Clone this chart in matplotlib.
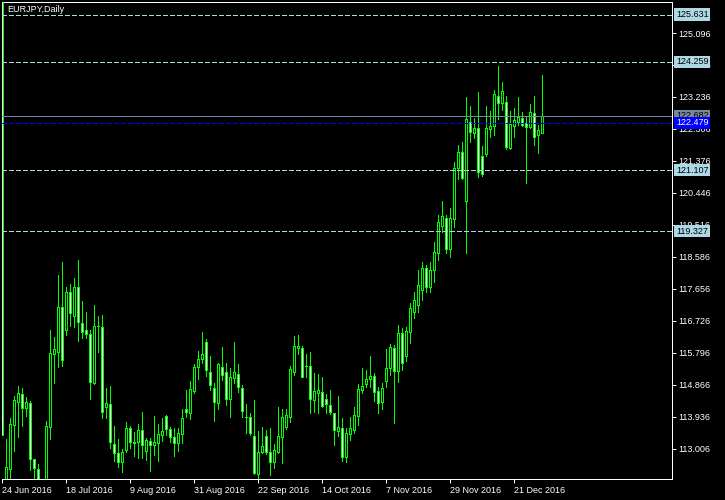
"""EURJPY daily candles, MT4 style dark chart."""
import numpy as np
import pandas as pd
import matplotlib
matplotlib.use("Agg")
import matplotlib.pyplot as plt

plt.rcParams["font.family"] = ["Liberation Sans", "DejaVu Sans"]
plt.rcParams["lines.scale_dashes"] = False

# OHLC per daily bar, first bar is 24 Jun 2016
opens = [126.64, 111.80, 112.41, 113.69, 114.37, 114.59, 114.18, 114.34, 112.70, 112.41,
         111.60, 111.66, 113.65, 115.77, 115.83, 117.14, 116.45, 117.55, 116.87, 117.72,
         116.67, 116.47, 116.33, 114.91, 116.58, 116.54, 114.23, 114.30, 113.15, 112.87,
         112.63, 112.96, 113.60, 113.17, 113.19, 113.55, 112.95, 113.24, 113.11, 113.18,
         113.41, 113.96, 113.57, 113.34, 113.16, 113.42, 114.15, 114.03, 114.69, 115.37,
         115.61, 116.10, 115.23, 114.76, 114.33, 115.39, 115.23, 114.44, 115.05, 115.17,
         114.76, 113.92, 113.92, 113.38, 112.26, 112.92, 113.37, 112.92, 112.63, 112.92,
         113.34, 113.64, 113.94, 115.24, 115.92, 115.92, 115.42, 115.41, 114.42, 114.63,
         114.65, 114.44, 114.27, 114.03, 113.51, 113.60, 112.75, 113.43, 113.55, 113.96,
         114.71, 114.90, 115.02, 115.12, 114.68, 114.35, 114.98, 115.34, 115.92, 115.27,
         116.36, 115.71, 116.41, 116.98, 117.18, 117.62, 118.26, 117.71, 118.20, 118.69,
         119.49, 119.71, 118.81, 119.68, 121.18, 121.63, 120.22, 122.52, 122.18, 122.32,
         121.53, 121.57, 122.31, 122.39, 123.26, 123.07, 123.08, 121.76, 122.40, 122.52,
         122.61, 122.47, 122.35, 122.76, 122.13, 122.20]
highs = [126.80, 113.29, 113.89, 114.53, 114.83, 114.76, 114.52, 114.39, 112.71, 112.56,
         111.95, 113.81, 116.45, 116.26, 118.06, 118.43, 117.70, 117.79, 117.96, 118.49,
         117.30, 116.97, 116.46, 117.18, 116.86, 116.89, 114.76, 114.83, 113.67, 113.29,
         112.99, 113.77, 113.67, 113.50, 113.72, 114.07, 113.32, 113.32, 113.96, 113.72,
         113.91, 113.99, 113.63, 113.60, 113.60, 114.15, 114.71, 114.97, 115.46, 115.84,
         116.39, 116.19, 115.70, 114.92, 115.50, 115.95, 115.49, 115.34, 116.10, 115.46,
         114.85, 114.31, 114.03, 114.42, 113.52, 113.64, 113.55, 113.61, 113.14, 114.21,
         114.16, 114.15, 115.40, 116.28, 116.31, 115.99, 115.76, 115.82, 115.20, 115.18,
         115.08, 114.60, 114.71, 114.05, 114.54, 113.90, 113.60, 113.94, 114.23, 114.89,
         115.36, 115.29, 115.70, 115.20, 114.81, 114.91, 115.90, 116.05, 116.02, 116.60,
         116.51, 116.55, 117.25, 117.56, 118.20, 118.43, 118.35, 118.43, 119.01, 119.80,
         120.21, 119.80, 120.00, 121.34, 121.84, 121.92, 123.23, 122.97, 122.61, 123.38,
         121.81, 122.97, 122.83, 123.44, 124.14, 123.67, 123.26, 122.83, 122.91, 123.23,
         122.80, 122.68, 123.03, 123.26, 122.42, 123.87]
lows = [113.40, 111.51, 111.95, 112.95, 113.35, 113.67, 113.96, 112.38, 111.95, 111.66,
        111.00, 111.51, 113.30, 114.92, 115.39, 115.41, 116.31, 116.58, 116.55, 116.14,
        116.23, 116.23, 114.45, 114.89, 115.83, 113.89, 113.91, 113.02, 112.66, 112.48,
        112.32, 112.92, 113.03, 112.79, 112.73, 112.74, 112.68, 112.36, 112.82, 112.66,
        113.23, 113.40, 113.21, 112.80, 112.95, 113.16, 113.94, 113.86, 114.62, 115.02,
        115.51, 115.13, 114.71, 113.82, 114.15, 115.01, 114.27, 113.94, 114.92, 114.66,
        113.94, 113.47, 113.40, 112.27, 112.12, 112.89, 112.84, 112.24, 112.45, 112.89,
        112.60, 113.59, 113.79, 115.14, 115.75, 115.08, 115.08, 114.03, 114.06, 114.05,
        114.21, 114.03, 114.00, 113.12, 113.37, 112.64, 112.63, 113.26, 113.46, 113.69,
        114.62, 114.81, 114.81, 114.38, 114.03, 114.15, 114.81, 115.15, 113.74, 114.95,
        115.29, 115.56, 116.09, 116.81, 116.98, 117.33, 117.56, 117.56, 117.85, 118.49,
        119.32, 118.71, 118.57, 119.46, 120.85, 120.85, 118.71, 121.93, 122.03, 120.92,
        120.94, 121.52, 122.08, 122.13, 122.59, 122.86, 121.71, 121.73, 122.08, 122.42,
        122.39, 120.72, 122.32, 121.84, 121.61, 122.18]
closes = [113.40, 112.47, 113.71, 114.41, 114.62, 114.20, 114.37, 112.70, 112.43, 111.80,
          111.40, 113.67, 115.78, 115.90, 117.14, 115.58, 117.57, 116.94, 117.72, 116.70,
          116.39, 116.33, 114.95, 116.57, 116.57, 114.06, 114.33, 113.21, 112.87, 112.63,
          112.90, 113.60, 113.21, 113.19, 113.55, 113.11, 113.26, 113.12, 113.19, 113.42,
          113.51, 113.57, 113.34, 113.16, 113.45, 113.89, 114.06, 114.73, 115.39, 115.61,
          115.75, 115.29, 114.85, 114.36, 115.46, 115.14, 114.44, 115.08, 115.24, 114.79,
          114.09, 113.93, 113.45, 112.29, 112.92, 113.09, 112.92, 112.63, 112.97, 113.37,
          113.92, 113.98, 115.31, 115.98, 115.98, 115.10, 115.41, 114.44, 114.68, 114.71,
          114.25, 114.30, 114.07, 113.54, 113.63, 112.76, 113.47, 113.61, 113.98, 114.73,
          114.83, 115.02, 115.12, 114.66, 114.34, 114.78, 115.34, 115.95, 115.27, 116.36,
          115.51, 116.43, 117.09, 117.33, 117.77, 118.26, 117.71, 118.20, 118.72, 119.59,
          119.77, 118.81, 119.71, 121.18, 121.63, 120.87, 122.59, 122.21, 122.32, 121.04,
          120.99, 122.32, 122.38, 123.31, 123.07, 123.41, 121.79, 122.45, 122.57, 122.64,
          122.42, 122.37, 122.81, 122.08, 122.27, 122.682]

dates = pd.bdate_range("2016-06-24", periods=len(opens))
label_every = 16

# horizontal lines drawn on the chart
level_prices = [125.631, 124.259, 121.107, 119.327]
bid_price = closes[-1]
blue_price = 122.479

price_ticks = [113.006 + 0.93 * k for k in range(14)]

GREEN = "#00ff00"
LIGHT = "#add8e6"
GRAY = "#778899"
PX = 0.72  # one pixel in points at dpi 100

fig = plt.figure(figsize=(7.25, 5), dpi=100, facecolor="black")
# plot area in pixels: x 2..672, y 2..479
ax = fig.add_axes([2 / 725, 21 / 500, 670 / 725, 477 / 500], facecolor="black")

o = np.array(opens); h = np.array(highs); l = np.array(lows); c = np.array(closes)
x = np.arange(len(o))
up = c >= o

ax.vlines(x, l, h, color=GREEN, lw=PX, antialiased=False, zorder=2)
ax.bar(x[up], (c - o)[up], bottom=o[up], width=0.5, facecolor="black",
       edgecolor=GREEN, lw=PX, antialiased=False, zorder=3)
ax.bar(x[~up], (o - c)[~up], bottom=c[~up], width=0.5, facecolor="white",
       edgecolor=GREEN, lw=PX, antialiased=False, zorder=3)

for p in level_prices:
    ax.axhline(p, color=LIGHT, lw=PX, ls=(0, (2.9, 1.45)), antialiased=False, zorder=4)
ax.axhline(bid_price, color=GRAY, lw=PX, antialiased=False, zorder=4)
ax.axhline(blue_price, color="#0000ff", lw=PX, ls=(0, (2.9, 1.45)), antialiased=False, zorder=4)

ax.set_xlim(-0.075, 167.4)
ax.set_ylim(112.123, 125.998)

# price scale on the right
ax.yaxis.tick_right()
ax.set_yticks(price_ticks)
ax.set_yticklabels([f"{p:.3f}" for p in price_ticks])
ax.tick_params(axis="y", colors="white", length=3, width=PX, pad=1.5, labelsize=6.5)

# date scale
xt = list(range(0, len(o), label_every))
ax.set_xticks(xt)
ax.set_xticklabels([f"{dates[i].day} {dates[i]:%b %Y}" for i in xt])
ax.tick_params(axis="x", colors="white", length=3, width=PX, pad=2, labelsize=6.5)
for lbl in ax.get_xticklabels():
    lbl.set_horizontalalignment("left")

for s in ["top", "right", "bottom"]:
    ax.spines[s].set_color("white")
    ax.spines[s].set_linewidth(PX)
ax.spines["left"].set_visible(False)

# price boxes on the scale
def price_box(p, fc, tc):
    ax.text(1.0 + 4 / 670, p, f"{p:.3f}", transform=ax.get_yaxis_transform(),
            ha="left", va="center", fontsize=6.5, color=tc, clip_on=False, zorder=10,
            bbox=dict(boxstyle="square,pad=0.18", fc=fc, ec="none"))

for p in level_prices:
    price_box(p, LIGHT, "black")
price_box(bid_price, GRAY, "black")
price_box(blue_price, "#0000ff", "white")

ax.text(5 / 670, 1 - 7 / 477, "EURJPY,Daily", transform=ax.transAxes,
        ha="left", va="center", fontsize=6.5, color="white", zorder=10)

fig.savefig("out.png", dpi=100, facecolor="black")
